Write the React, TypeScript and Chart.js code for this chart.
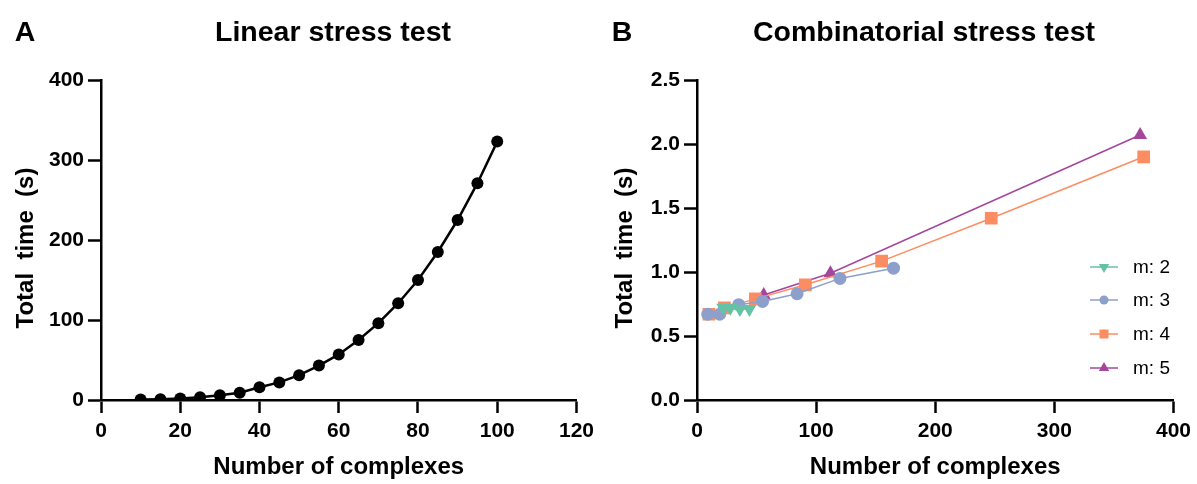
import React, { useEffect, useRef } from 'react';
import { Chart, registerables } from 'chart.js';

Chart.register(...registerables);

// ---------- Data ----------
// Panel A: Linear stress test
const linearX = [10, 15, 20, 25, 30, 35, 40, 45, 50, 55, 60, 65, 70, 75, 80, 85, 90, 95, 100];
const linearY = [0.5, 1, 2, 3.5, 6, 9, 16, 22, 31, 43, 57, 75, 96, 121, 150, 185, 225, 271, 323];

// Panel B: Combinatorial stress test
const m2X = [22, 28, 36, 44];
const m2Y = [0.72, 0.72, 0.71, 0.71];
const m3X = [9, 19, 35, 55, 84, 120, 165];
const m3Y = [0.67, 0.67, 0.745, 0.77, 0.83, 0.95, 1.03];
const m4X = [10, 23, 49, 91, 155, 247, 375];
const m4Y = [0.67, 0.72, 0.79, 0.9, 1.085, 1.42, 1.9];
const m5X = [56, 112, 372];
const m5Y = [0.82, 0.99, 2.07];

const seriesLabels = ['m: 2', 'm: 3', 'm: 4', 'm: 5'];
const seriesColors = ['#66c2a5', '#8da0cb', '#fc8d62', '#a4479c'];

const xTicksA = { min: 0, max: 120, step: 20 };
const yTicksA = { min: 0, max: 400, step: 100 };
const xTicksB = { min: 0, max: 400, step: 100 };
const yTicksB = { min: 0, max: 2.5, step: 0.5 };

const xTitle = 'Number of complexes';
const yTitle = 'Total  time  (s)';

const FONT = '"Liberation Sans", Arial, Helvetica, sans-serif';
Chart.defaults.font.family = FONT;
Chart.defaults.color = '#000';

const pts = (xs: number[], ys: number[]) => xs.map((x, i) => ({ x, y: ys[i] }));

function drawMarker(ctx: CanvasRenderingContext2D, style: string, x: number, y: number, r: number) {
  ctx.beginPath();
  if (style === 'circle') {
    ctx.arc(x, y, r, 0, Math.PI * 2);
  } else if (style === 'rect') {
    ctx.rect(x - r, y - r, 2 * r, 2 * r);
  } else if (style === 'triUp' || style === 'triDown') {
    const s = style === 'triUp' ? 1 : -1;
    const h = r * Math.sin(Math.PI / 3);
    ctx.moveTo(x, y - s * r);
    ctx.lineTo(x - h, y + s * r / 2);
    ctx.lineTo(x + h, y + s * r / 2);
    ctx.closePath();
  }
  ctx.fill();
}

function decor(letter: string, letterX: number, title: string, titleX: number, yTitleX: number) {
  return {
    id: 'decor',
    afterDraw(chart: any) {
      const ctx = chart.ctx as CanvasRenderingContext2D;
      ctx.save();
      ctx.fillStyle = '#000';
      ctx.font = `bold 28.5px ${FONT}`;
      ctx.textBaseline = 'middle';
      ctx.textAlign = 'center';
      ctx.fillText(letter, letterX, 33);
      ctx.fillText(title, titleX, 33);
      ctx.font = `bold 24px ${FONT}`;
      ctx.translate(yTitleX, 248);
      ctx.rotate(-Math.PI / 2);
      ctx.fillText(yTitle, 0, 0);
      ctx.restore();
    },
  };
}

const legendPlugin = {
  id: 'customLegend',
  afterDraw(chart: any) {
    const ctx = chart.ctx as CanvasRenderingContext2D;
    const styles = ['triDown', 'circle', 'rect', 'triUp'];
    const sizes = [6, 4.5, 4.5, 6];
    const rows = [267, 300, 334, 368];
    ctx.save();
    seriesLabels.forEach((lab, i) => {
      const y = rows[i];
      ctx.strokeStyle = seriesColors[i];
      ctx.fillStyle = seriesColors[i];
      ctx.lineWidth = 1.5;
      ctx.beginPath();
      ctx.moveTo(490, y);
      ctx.lineTo(518, y);
      ctx.stroke();
      drawMarker(ctx, styles[i], 504, y, sizes[i]);
      ctx.fillStyle = '#000';
      ctx.font = `19px ${FONT}`;
      ctx.textAlign = 'left';
      ctx.textBaseline = 'middle';
      ctx.fillText(lab, 533, y + 1);
    });
    ctx.restore();
  },
};

function axis(
  range: { min: number; max: number; step: number },
  horizontal: boolean,
  fixedSize: number,
  fmt?: (v: number) => string
) {
  return {
    type: 'linear',
    min: range.min,
    max: range.max,
    ticks: {
      stepSize: range.step,
      color: '#000',
      font: { size: 21, weight: 'bold' },
      padding: horizontal ? 6 : 4,
      autoSkip: false,
      maxRotation: 0,
      callback: fmt ? (v: any) => fmt(Number(v)) : (v: any) => String(v),
    },
    grid: {
      drawOnChartArea: false,
      drawTicks: true,
      tickLength: 13,
      tickWidth: 2.5,
      tickColor: '#000',
    },
    border: { display: true, color: '#000', width: 2.5 },
    title: {
      display: horizontal,
      text: xTitle,
      color: '#000',
      font: { size: 24, weight: 'bold' },
      padding: { top: 0, bottom: 2.6 },
    },
    afterFit(scale: any) {
      if (horizontal) scale.height = fixedSize;
      else scale.width = fixedSize;
    },
  };
}

function PanelA() {
  const ref = useRef<HTMLCanvasElement>(null);
  useEffect(() => {
    const chart = new Chart(ref.current as HTMLCanvasElement, {
      type: 'line',
      data: {
        datasets: [
          {
            data: pts(linearX, linearY),
            borderColor: '#000',
            backgroundColor: '#000',
            borderWidth: 2.5,
            pointRadius: 6,
            pointHoverRadius: 6,
            pointBorderWidth: 0,
            tension: 0,
          },
        ],
      },
      options: {
        responsive: false,
        animation: false,
        events: [],
        layout: { padding: { top: 80, right: 21, bottom: 0, left: 0 } },
        plugins: { legend: { display: false }, tooltip: { enabled: false }, title: { display: false } },
        scales: {
          x: axis(xTicksA, true, 84),
          y: axis(yTicksA, false, 101),
        },
      } as any,
      plugins: [decor('A', 25, 'Linear stress test', 333, 26)],
    });
    return () => chart.destroy();
  }, []);
  return (
    <canvas
      ref={ref}
      width={600}
      height={484}
      style={{ position: 'absolute', left: 0, top: 0, width: 600, height: 484 }}
    />
  );
}

function PanelB() {
  const ref = useRef<HTMLCanvasElement>(null);
  useEffect(() => {
    const mk = (xs: number[], ys: number[], i: number, style: string, radius: number, rotation = 0) => ({
      label: seriesLabels[i],
      data: pts(xs, ys),
      borderColor: seriesColors[i],
      backgroundColor: seriesColors[i],
      borderWidth: 1.5,
      pointStyle: style,
      pointRotation: rotation,
      pointRadius: radius,
      pointHoverRadius: radius,
      pointBorderWidth: 0,
      tension: 0,
    });
    const chart = new Chart(ref.current as HTMLCanvasElement, {
      type: 'line',
      data: {
        datasets: [
          mk(m2X, m2Y, 0, 'triangle', 8, 180),
          mk(m3X, m3Y, 1, 'circle', 6.5),
          mk(m4X, m4Y, 2, 'rect', 9),
          mk(m5X, m5Y, 3, 'triangle', 8),
        ],
      },
      options: {
        responsive: false,
        animation: false,
        events: [],
        layout: { padding: { top: 80, right: 23, bottom: 0, left: 0 } },
        plugins: { legend: { display: false }, tooltip: { enabled: false }, title: { display: false } },
        scales: {
          x: axis(xTicksB, true, 84),
          y: axis(yTicksB, false, 97, (v) => v.toFixed(1)),
        },
      } as any,
      plugins: [decor('B', 22, 'Combinatorial stress test', 324, 25), legendPlugin],
    });
    return () => chart.destroy();
  }, []);
  return (
    <canvas
      ref={ref}
      width={597}
      height={484}
      style={{ position: 'absolute', left: 600, top: 0, width: 597, height: 484 }}
    />
  );
}

export default function App() {
  return (
    <div style={{ position: 'absolute', left: 0, top: 0, width: 1197, height: 484, background: '#fff' }}>
      <PanelA />
      <PanelB />
    </div>
  );
}
